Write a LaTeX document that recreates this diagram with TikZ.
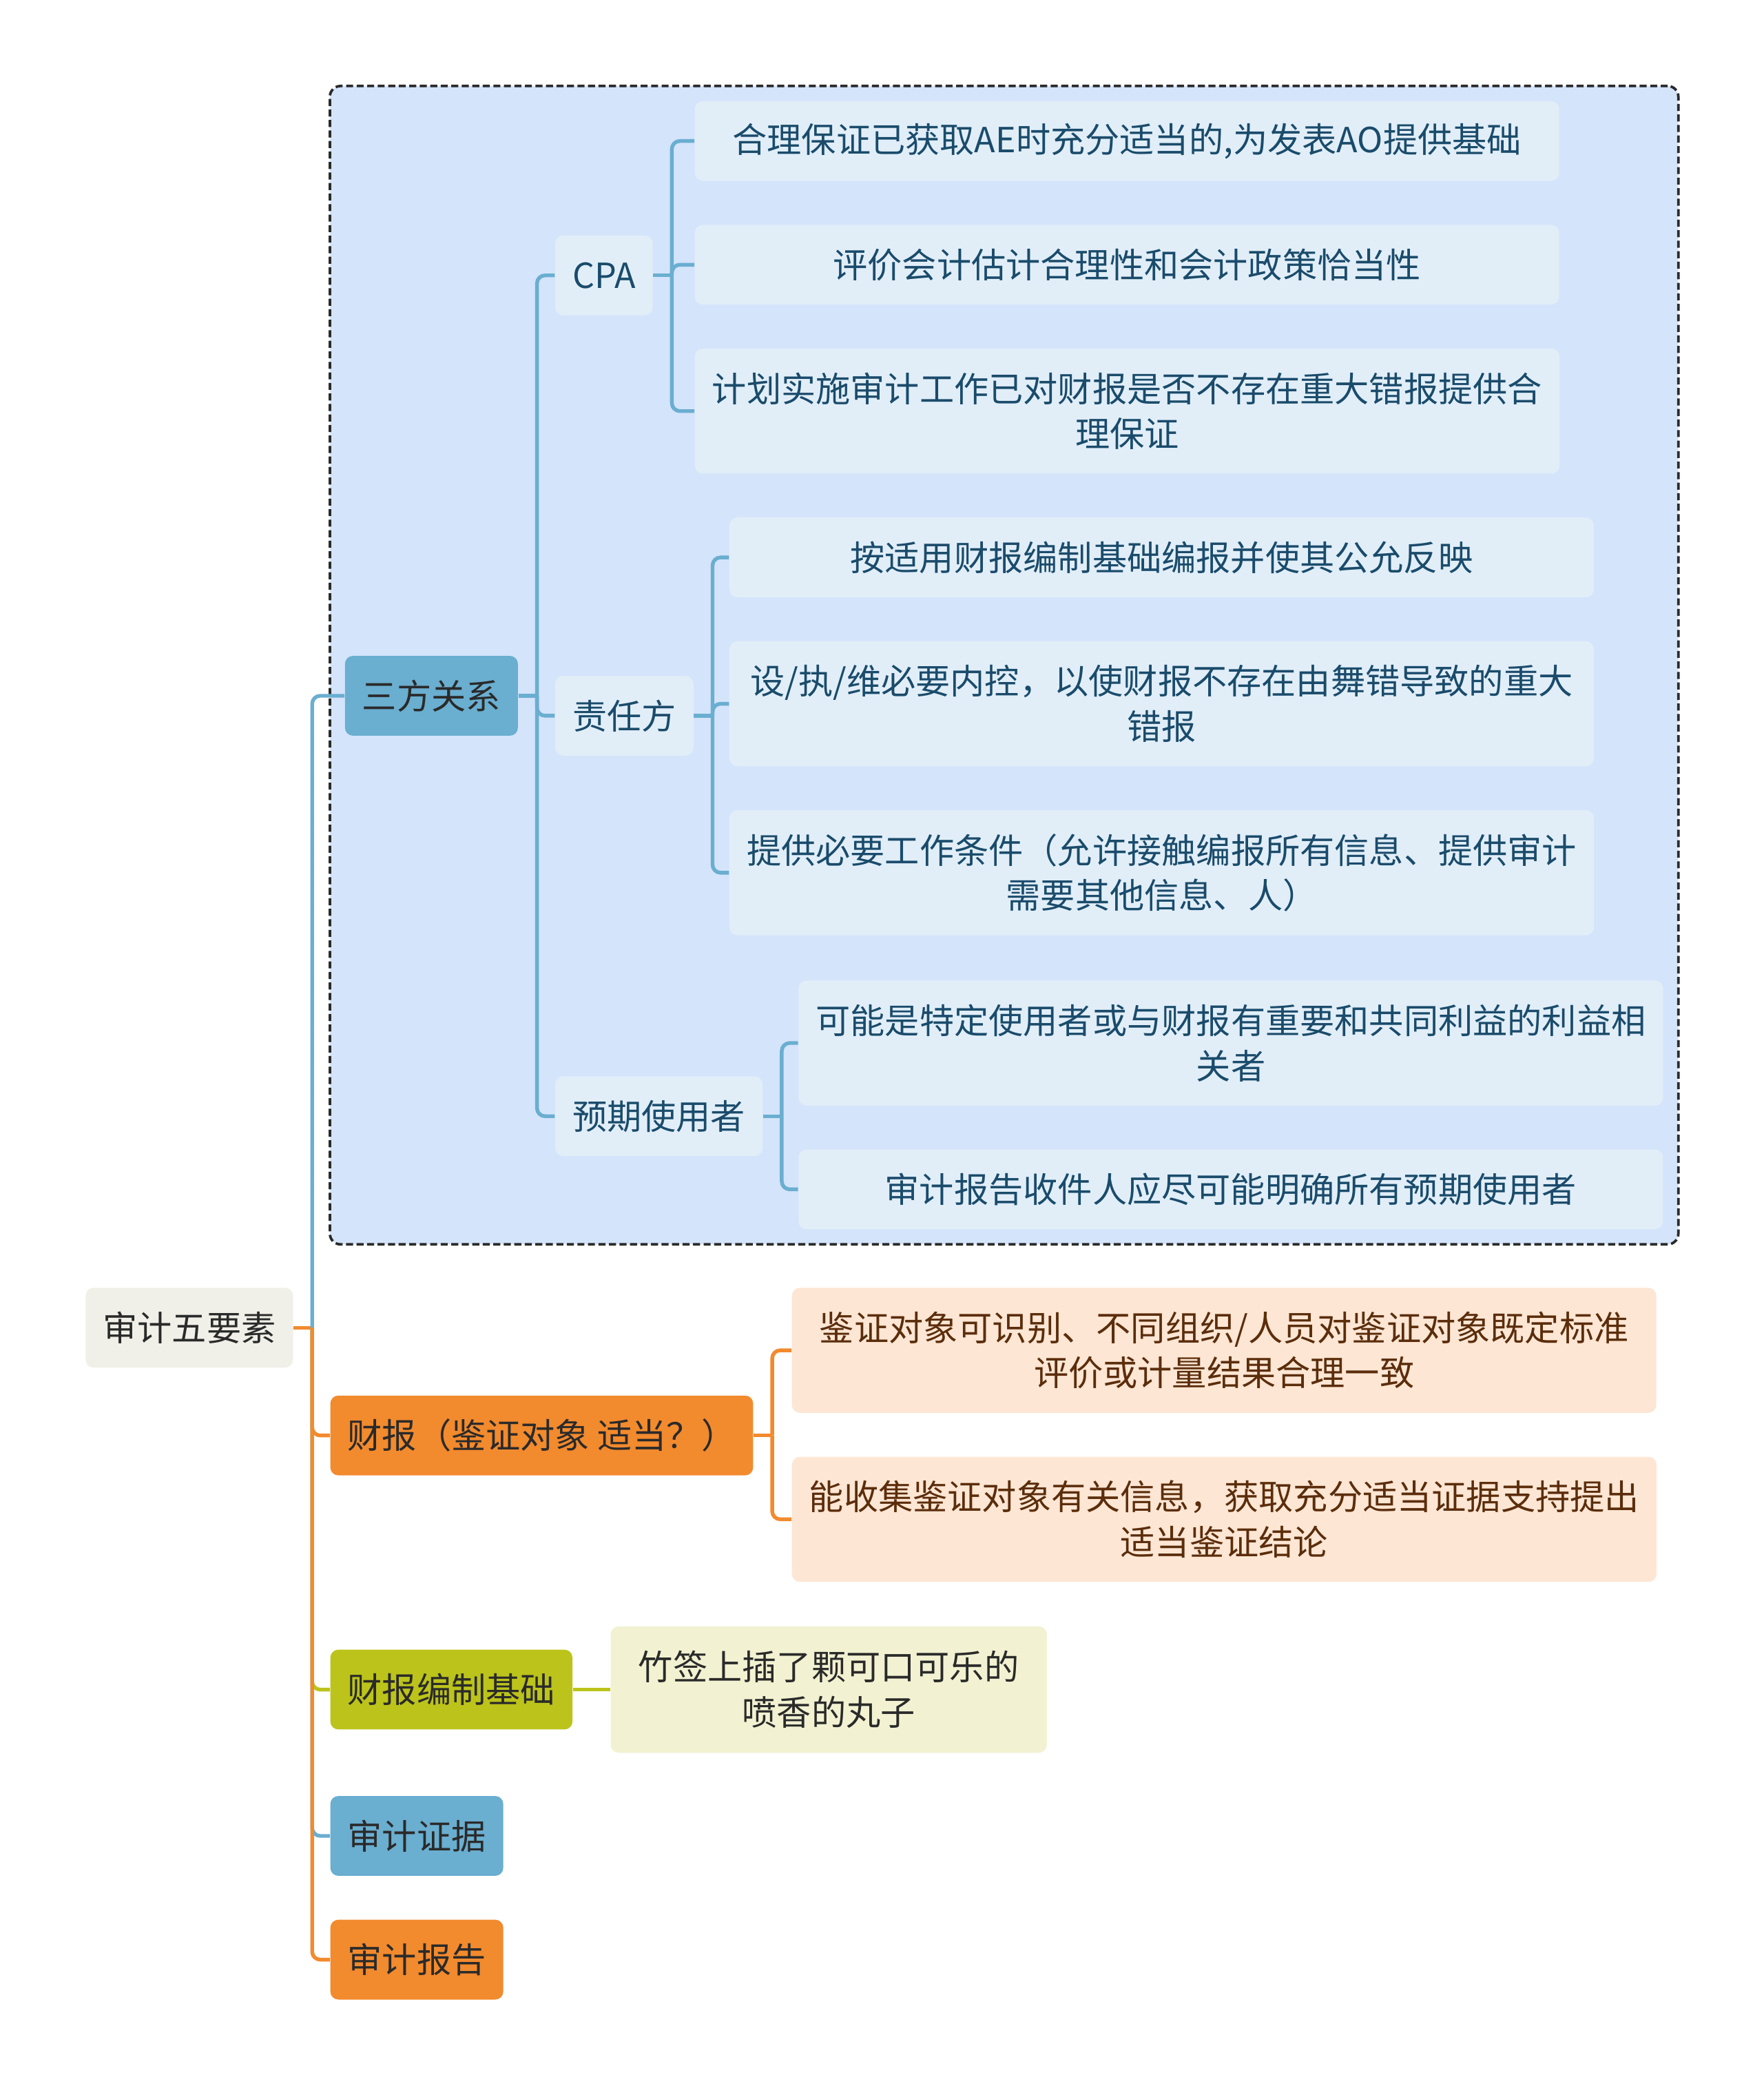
\documentclass[tikz,border=0pt]{standalone}
\usepackage{fontspec}
\setmainfont{Noto Sans CJK SC}
\usetikzlibrary{positioning, fit, backgrounds}
\definecolor{cFrame}{HTML}{D4E4FB}
\definecolor{cBlue}{HTML}{6AAED0}
\definecolor{cBlueLeaf}{HTML}{E1EEF8}
\definecolor{cBlueText}{HTML}{1A4B6B}
\definecolor{cOrange}{HTML}{F28A2E}
\definecolor{cOrangeLeaf}{HTML}{FDE6D4}
\definecolor{cOrangeText}{HTML}{5B2D0B}
\definecolor{cOlive}{HTML}{BCC31A}
\definecolor{cOliveLeaf}{HTML}{F2F2D2}
\definecolor{cRoot}{HTML}{F0F0E8}
\definecolor{cDark}{HTML}{2A2A2A}

\begin{document}
\begin{tikzpicture}[
    x=0.02cm, y=-0.02cm,
    box/.style={rounded corners=0.12cm, inner xsep=0.26cm, inner ysep=0pt, minimum height=1.2cm,
      align=center, anchor=west, font=\fontsize{14.8pt}{19.3pt}\selectfont},
    rootbox/.style={box, fill=cRoot, text=cDark},
    bluebox/.style={box, fill=cBlue, text=cDark},
    orangebox/.style={box, fill=cOrange, text=cDark},
    olivebox/.style={box, fill=cOlive, text=cDark},
    subbox/.style={box, fill=cBlueLeaf, text=cBlueText},
    leaf/.style={subbox, minimum width=13cm},
    tallleaf/.style={leaf, minimum height=1.88cm},
    orangeleaf/.style={box, fill=cOrangeLeaf, text=cOrangeText, minimum width=13cm, minimum height=1.88cm},
    oliveleaf/.style={box, fill=cOliveLeaf, text=cDark, minimum width=6.56cm, minimum height=1.9cm},
    link/.style={draw=cBlue, line width=1.6pt, rounded corners=0.12cm},
    frame/.style={draw=cDark, dash pattern=on 3pt off 1.5pt, line width=1.1pt, fill=cFrame, rounded corners=0.16cm}
  ]
  \useasboundingbox (0,0) rectangle (1326,1568);

  % main branches
  \node[rootbox] (root) at (64,998) {审计五要素};
  \node[bluebox] (san) at (259,523) {三方关系};
  \node[orangebox] (fin) at (248,1079) {财报（鉴证对象 适当？）};
  \node[olivebox] (basis) at (248,1270) {财报编制基础};
  \node[bluebox] (evid) at (248,1380) {审计证据};
  \node[orangebox] (rep) at (248,1473) {审计报告};

  % three parties
  \node[subbox] (cpa) at (417,207) {CPA};
  \node[subbox] (resp) at (417,538) {责任方};
  \node[subbox] (user) at (417,839) {预期使用者};

  \node[leaf] (c1) at (522,106) {合理保证已获取AE时充分适当的,为发表AO提供基础};
  \node[leaf] (c2) at (522,199) {评价会计估计合理性和会计政策恰当性};
  \node[tallleaf] (c3) at (522,309) {计划实施审计工作已对财报是否不存在重大错报提供合\\理保证};

  \node[leaf] (r1) at (548,419) {按适用财报编制基础编报并使其公允反映};
  \node[tallleaf] (r2) at (548,529) {设/执/维必要内控，以使财报不存在由舞错导致的重大\\错报};
  \node[tallleaf] (r3) at (548,656) {提供必要工作条件（允许接触编报所有信息、提供审计\\需要其他信息、人）};

  \node[tallleaf] (u1) at (600,784) {可能是特定使用者或与财报有重要和共同利益的利益相\\关者};
  \node[leaf] (u2) at (600,894) {审计报告收件人应尽可能明确所有预期使用者};

  % subject matter
  \node[orangeleaf] (f1) at (595,1015) {鉴证对象可识别、不同组织/人员对鉴证对象既定标准\\评价或计量结果合理一致};
  \node[orangeleaf] (f2) at (595,1142) {能收集鉴证对象有关信息，获取充分适当证据支持提出\\适当鉴证结论};

  \node[oliveleaf, right=0.56cm of basis] (meat) {竹签上插了颗可口可乐的\\喷香的丸子};

  \begin{scope}[on background layer]
    \node[frame, fit=(san)(c1)(u1)(u2), inner sep=0.22cm] (tri) {};
  \end{scope}

  % junctions
  \coordinate[right=0.28cm of root] (rootj);
  \coordinate[right=0.28cm of san] (sanj);
  \coordinate[right=0.28cm of cpa] (cpaj);
  \coordinate[right=0.28cm of resp] (respj);
  \coordinate[right=0.28cm of user] (userj);
  \coordinate[right=0.28cm of fin] (finj);

  \draw[link, draw=cOrange] (root) -- (rootj);
  \foreach \n/\c in {san/cBlue, fin/cOrange, basis/cOlive, evid/cBlue, rep/cOrange}
    \draw[link, draw=\c] (rootj) |- (\n.west);

  \draw[link] (san) -- (sanj);
  \foreach \n in {cpa, resp, user}
    \draw[link] (sanj) |- (\n.west);

  \draw[link] (cpa) -- (cpaj);
  \foreach \n in {c1, c2, c3}
    \draw[link] (cpaj) |- (\n.west);

  \draw[link] (resp) -- (respj);
  \foreach \n in {r1, r2, r3}
    \draw[link] (respj) |- (\n.west);

  \draw[link] (user) -- (userj);
  \foreach \n in {u1, u2}
    \draw[link] (userj) |- (\n.west);

  \draw[link, draw=cOrange] (fin) -- (finj);
  \foreach \n in {f1, f2}
    \draw[link, draw=cOrange] (finj) |- (\n.west);

  \draw[link, draw=cOlive] (basis) -- (meat);
\end{tikzpicture}
\end{document}
